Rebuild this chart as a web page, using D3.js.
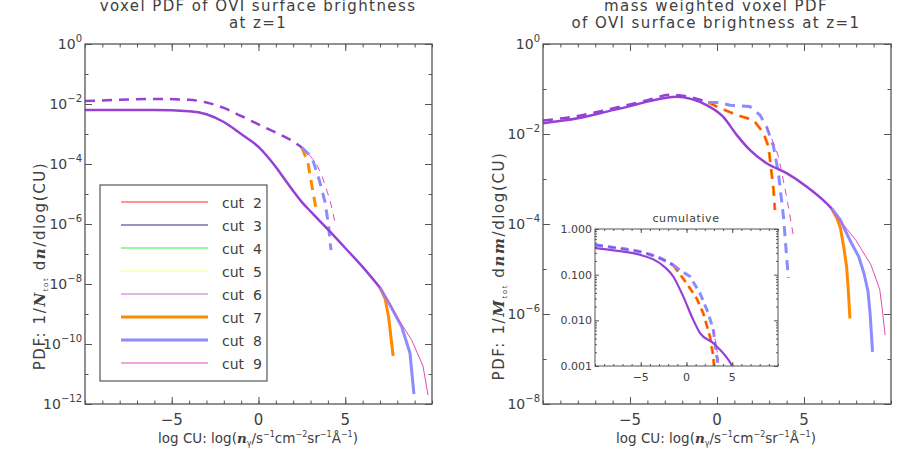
<!DOCTYPE html>
<html lang="en">
<head>
<meta charset="utf-8">
<title>OVI surface brightness voxel PDF</title>
<script src="https://cdn.jsdelivr.net/npm/d3@7"></script>
<style>
  body { margin: 0; background: #fff; }
  svg { font-family: "DejaVu Sans", sans-serif; }
  text { fill: #404040; }
</style>
</head>
<body>
<script>
// ---------- data (x = log CU, values = log10 of PDF) ----------
var cutNames  = ["cut 2", "cut 3", "cut 4", "cut 5", "cut 6", "cut 7", "cut 8", "cut 9"];
var cutColors = ["#ff2a2a", "#2e2a7c", "#3cec3c", "#ffff7a", "#c468d4", "#ff8a00", "#8c8cff", "#e04cb8"];
var cutWidths = [1, 1, 1, 1, 1, 3, 3, 1];

var xMajor = [-5, 0, 5];
var leftYExp = [0, -2, -4, -6, -8, -10, -12];
var rightYExp = [0, -2, -4, -6, -8];
var insetYVals = [1, 0.1, 0.01, 0.001];
var insetYLabels = ["1.000", "0.100", "0.010", "0.001"];

// left panel: voxel PDF
var leftSolid = [[-10,-2.2],[-6,-2.2],[-4,-2.24],[-3,-2.34],[-2,-2.6],[-1,-3.0],[0,-3.43],[0.5,-3.74],
  [1,-4.1],[1.5,-4.5],[2,-4.9],[2.5,-5.27],[3,-5.58],[4,-6.18],[5,-6.8],[6,-7.43],[7,-8.12]];
var leftSolid7 = [[7,-8.12],[7.3,-8.5],[7.5,-9.1],[7.62,-9.7],[7.76,-10.4]];
var leftSolid8 = [[7,-8.12],[7.58,-8.7],[8.25,-9.42],[8.73,-10.3],[8.96,-11.67]];
var leftSolid9 = [[7,-8.12],[7.58,-8.68],[8.16,-9.26],[8.83,-9.87],[9.48,-10.73],[9.77,-11.7]];
var leftDash = [[-10,-1.9],[-8,-1.86],[-6,-1.83],[-4,-1.86],[-3,-1.95],[-2,-2.13],[-1,-2.4],[0,-2.68],
  [1,-2.95],[2,-3.25],[2.5,-3.45]];
var leftDash7 = [[2.5,-3.45],[2.85,-3.97],[3.07,-4.7],[3.35,-5.6]];
var leftDash8 = [[2.5,-3.45],[2.9,-3.68],[3.16,-3.92],[3.5,-4.53],[3.83,-5.26],[4.02,-5.98],[4.18,-6.87]];
var leftDash9 = [[2.9,-3.68],[3.3,-3.95],[3.64,-4.37],[4.12,-5.2],[4.47,-6.09]];

// right panel: mass weighted voxel PDF
var rightSolid = [[-10,-1.76],[-8,-1.65],[-6,-1.47],[-5,-1.38],[-4,-1.28],[-3,-1.2],[-2.3,-1.17],[-1.5,-1.22],
  [-0.6,-1.36],[0.36,-1.62],[1.13,-2.02],[1.9,-2.36],[2.85,-2.65],[4,-2.87],[5.16,-3.17],[6.3,-3.54],[6.6,-3.66]];
var rightSolid7 = [[6.6,-3.66],[6.9,-3.88],[7.1,-4.1],[7.3,-4.55],[7.45,-4.95],[7.55,-5.5],[7.64,-6.1]];
var rightSolid8 = [[6.6,-3.66],[7.07,-3.9],[7.64,-4.36],[8.15,-4.73],[8.45,-5.1],[8.68,-5.5],[8.8,-6.0],[8.94,-6.84]];
var rightSolid9 = [[6.3,-3.54],[6.9,-3.84],[7.98,-4.36],[8.85,-4.91],[9.35,-5.45],[9.5,-5.9],[9.66,-6.47]];
var rightDash = [[-10,-1.7],[-8,-1.6],[-6,-1.43],[-4,-1.25],[-2.7,-1.13],[-1.5,-1.18],[-0.5,-1.3]];
var rightDash7 = [[-0.5,-1.3],[0,-1.39],[1.13,-1.58],[2.1,-1.69],[2.67,-1.98],[2.96,-2.28],[3.25,-3.24],[3.33,-3.69]];
var rightDash8 = [[-0.5,-1.3],[0.1,-1.3],[0.75,-1.36],[1.9,-1.39],[2.47,-1.58],[2.85,-1.84],[3.25,-2.28],
  [3.53,-2.87],[3.82,-3.84],[4.1,-5.2]];
var rightDash9 = [[2.85,-1.84],[3.25,-2.2],[3.53,-2.5],[4.0,-3.39],[4.38,-4.24]];

// inset: cumulative
var insetSolid = [[-10,-0.42],[-7.5,-0.48],[-5,-0.57],[-2.9,-0.75],[-1.45,-1.04],[-0.35,-1.48],[0.74,-1.99],
  [1.48,-2.28],[2.93,-2.5],[4.94,-2.98],[5.2,-3.08]];
var insetDash = [[-10,-0.35],[-7.5,-0.42],[-5,-0.5],[-2.9,-0.64],[-1.45,-0.79]];
var insetDash7 = [[-1.45,-0.79],[0.02,-1.19],[1.11,-1.52],[1.84,-1.85],[2.57,-2.36],[2.93,-2.8],[3.05,-3.1]];
var insetDash8 = [[-1.45,-0.79],[-0.71,-0.9],[0.38,-1.04],[1.48,-1.41],[2.39,-1.85],[2.93,-2.21],[3.48,-3.05]];
var insetDash9 = [[2.93,-2.21],[3.3,-2.6],[3.6,-3.1]];

var trunkColor = "#9640d4";
var axisColor = "#555";

var width = 915, height = 458;
var svg = d3.select("body").append("svg")
  .attr("width", width)
  .attr("height", height);

// ---------- helpers ----------
function drawFrame(g, x, y, opt) {
  var x0 = x.range()[0], x1 = x.range()[1];
  var y0 = y.range()[0], y1 = y.range()[1];
  var big = opt.major, small = opt.minor;
  var minorX = d3.range(Math.ceil(x.domain()[0]), x.domain()[1] + 1, 1);

  function tick(sel) {
    sel.selectAll("path").remove();
    sel.selectAll("line").attr("stroke", axisColor);
    sel.selectAll("text").remove();
  }
  g.append("g").attr("transform", "translate(0," + y0 + ")")
    .call(d3.axisBottom(x).tickValues(minorX).tickSize(-small)).call(tick);
  g.append("g").attr("transform", "translate(0," + y0 + ")")
    .call(d3.axisBottom(x).tickValues(xMajor).tickSize(-big)).call(tick);
  g.append("g").attr("transform", "translate(0," + y1 + ")")
    .call(d3.axisTop(x).tickValues(minorX).tickSize(-small)).call(tick);
  g.append("g").attr("transform", "translate(0," + y1 + ")")
    .call(d3.axisTop(x).tickValues(xMajor).tickSize(-big)).call(tick);

  g.append("g").attr("transform", "translate(" + x0 + ",0)")
    .call(d3.axisLeft(y).tickValues(opt.yMinor).tickSize(-small)).call(tick);
  g.append("g").attr("transform", "translate(" + x0 + ",0)")
    .call(d3.axisLeft(y).tickValues(opt.yMajor).tickSize(-big)).call(tick);
  g.append("g").attr("transform", "translate(" + x1 + ",0)")
    .call(d3.axisRight(y).tickValues(opt.yMinor).tickSize(-small)).call(tick);
  g.append("g").attr("transform", "translate(" + x1 + ",0)")
    .call(d3.axisRight(y).tickValues(opt.yMajor).tickSize(-big)).call(tick);

  g.append("rect")
    .attr("x", x0).attr("y", y1)
    .attr("width", x1 - x0).attr("height", y0 - y1)
    .attr("fill", "none")
    .attr("stroke", axisColor)
    .attr("stroke-width", opt.frameWidth);

  g.selectAll(".xlab").data(xMajor).enter().append("text")
    .attr("x", function(d) { return x(d); })
    .attr("y", y0 + opt.xLabDy)
    .attr("text-anchor", "middle")
    .style("font-size", opt.fontSize + "px")
    .text(function(d) { return d < 0 ? "\u2212" + (-d) : d; });
}

function powerLabels(g, y, exps, xr) {
  exps.forEach(function(e) {
    var t = g.append("text")
      .attr("x", xr)
      .attr("y", y(Math.pow(10, e)) + 5)
      .attr("text-anchor", "end")
      .style("font-size", "14px");
    t.append("tspan").text("10");
    t.append("tspan").attr("dy", -7).style("font-size", "10px")
      .text(e === 0 ? "0" : "\u2212" + (-e));
  });
}

function series(g, x, y, pts, color, w, dash, curve) {
  var line = d3.line()
    .x(function(d) { return x(d[0]); })
    .y(function(d) { return y(Math.pow(10, d[1])); })
    .curve(curve || d3.curveLinear);
  g.append("path")
    .datum(pts)
    .attr("d", line)
    .attr("fill", "none")
    .attr("stroke", color)
    .attr("stroke-width", w)
    .attr("stroke-linejoin", "round")
    .attr("stroke-dasharray", dash || null);
}

function clip(id, x, y) {
  svg.append("clipPath").attr("id", id).append("rect")
    .attr("x", x.range()[0]).attr("y", y.range()[1])
    .attr("width", x.range()[1] - x.range()[0])
    .attr("height", y.range()[0] - y.range()[1]);
}

var dashThick = "10,7", dashThin = "7,6";
var smooth = d3.curveMonotoneX;

// ---------- left panel ----------
var xL = d3.scaleLinear().domain([-10, 10]).range([85, 432]);
var yL = d3.scaleLog().domain([1e-12, 1]).range([404, 44]);
var gL = svg.append("g");
clip("clipL", xL, yL);
var cL = gL.append("g").attr("clip-path", "url(#clipL)");

series(cL, xL, yL, leftSolid7, cutColors[5], 3);
series(cL, xL, yL, leftSolid8, cutColors[6], 3);
series(cL, xL, yL, leftSolid9, cutColors[7], 1);
series(cL, xL, yL, leftDash7, cutColors[5], 3, dashThick);
series(cL, xL, yL, leftDash8, cutColors[6], 3, dashThick);
series(cL, xL, yL, leftDash9, cutColors[7], 1, dashThin);
series(cL, xL, yL, leftSolid, trunkColor, 2.5, null, smooth);
series(cL, xL, yL, leftDash, trunkColor, 2.5, dashThick, smooth);

drawFrame(gL, xL, yL, {
  major: 7, minor: 3.5, frameWidth: 1.3, xLabDy: 21, fontSize: 15,
  yMajor: leftYExp.map(function(e) { return Math.pow(10, e); }),
  yMinor: [-1, -3, -5, -7, -9, -11].map(function(e) { return Math.pow(10, e); })
});
powerLabels(gL, yL, leftYExp, 82);

// legend
var leg = gL.append("g");
leg.append("rect")
  .attr("x", 100).attr("y", 185).attr("width", 167).attr("height", 196)
  .attr("fill", "#fff").attr("stroke", axisColor).attr("stroke-width", 1.2);
cutNames.forEach(function(name, i) {
  var yy = 202 + 23 * i;
  leg.append("line")
    .attr("x1", 121).attr("x2", 208).attr("y1", yy).attr("y2", yy)
    .attr("stroke", cutColors[i]).attr("stroke-width", cutWidths[i]);
  leg.append("text")
    .attr("x", 222).attr("y", yy + 6)
    .style("font-size", "14px").style("white-space", "pre")
    .text(name.replace(" ", "  "));
});

// ---------- right panel ----------
var xR = d3.scaleLinear().domain([-10, 10]).range([543, 891]);
var yR = d3.scaleLog().domain([1e-8, 1]).range([404, 44]);
var gR = svg.append("g");
clip("clipR", xR, yR);
var cR = gR.append("g").attr("clip-path", "url(#clipR)");

series(cR, xR, yR, rightSolid7, cutColors[5], 3);
series(cR, xR, yR, rightSolid8, cutColors[6], 3);
series(cR, xR, yR, rightSolid9, cutColors[7], 1);
series(cR, xR, yR, rightDash7, cutColors[5], 3, dashThick);
series(cR, xR, yR, rightDash7, cutColors[0], 1, dashThick);
series(cR, xR, yR, rightDash8, cutColors[6], 3, dashThick);
series(cR, xR, yR, rightDash9, cutColors[7], 1, dashThin);
series(cR, xR, yR, rightSolid, trunkColor, 2.5, null, smooth);
series(cR, xR, yR, rightDash, trunkColor, 2.5, dashThick, smooth);

drawFrame(gR, xR, yR, {
  major: 7, minor: 3.5, frameWidth: 1.3, xLabDy: 21, fontSize: 15,
  yMajor: rightYExp.map(function(e) { return Math.pow(10, e); }),
  yMinor: [-1, -3, -5, -7].map(function(e) { return Math.pow(10, e); })
});
powerLabels(gR, yR, rightYExp, 540);

// ---------- inset ----------
var xI = d3.scaleLinear().domain([-10, 10]).range([595, 778]);
var yI = d3.scaleLog().domain([1e-3, 1]).range([366, 229]);
var gI = svg.append("g");
gI.append("rect")
  .attr("x", 595).attr("y", 229).attr("width", 183).attr("height", 137)
  .attr("fill", "#fff");
clip("clipI", xI, yI);
var cI = gI.append("g").attr("clip-path", "url(#clipI)");
series(cI, xI, yI, insetDash7, cutColors[5], 3, "8,5");
series(cI, xI, yI, insetDash7, cutColors[0], 1, "8,5");
series(cI, xI, yI, insetDash8, cutColors[6], 3, "8,5");
series(cI, xI, yI, insetDash9, cutColors[7], 1, "5,4");
series(cI, xI, yI, insetSolid, trunkColor, 2.2, null, smooth);
series(cI, xI, yI, insetDash, cutColors[6], 3.5, "8,5", smooth);
series(cI, xI, yI, insetDash, trunkColor, 1.2, "8,5", smooth);

var insetMinor = [];
[0.001, 0.01, 0.1].forEach(function(b) {
  for (var k = 2; k <= 9; k++) insetMinor.push(b * k);
});
drawFrame(gI, xI, yI, {
  major: 4, minor: 2, frameWidth: 1, xLabDy: 15, fontSize: 11,
  yMajor: insetYVals, yMinor: insetMinor
});
insetYVals.forEach(function(v, i) {
  gI.append("text")
    .attr("x", 592).attr("y", yI(v) + 4)
    .attr("text-anchor", "end")
    .style("font-size", "11px")
    .text(insetYLabels[i]);
});
gI.append("text")
  .attr("x", 686).attr("y", 222)
  .attr("text-anchor", "middle")
  .style("font-size", "11px").style("letter-spacing", "0.6px")
  .text("cumulative");

// ---------- titles ----------
function title(x, y, s) {
  svg.append("text").attr("x", x).attr("y", y)
    .attr("text-anchor", "middle")
    .style("font-size", "15px").style("letter-spacing", "1.4px")
    .text(s);
}
title(258, 11, "voxel PDF of OVI surface brightness");
title(258, 28, "at z=1");
title(716, 11, "mass weighted voxel PDF");
title(716, 28, "of OVI surface brightness at z=1");

// ---------- axis titles ----------
function xTitle(cx) {
  var t = svg.append("text").attr("x", cx).attr("y", 443)
    .attr("text-anchor", "middle")
    .style("font-size", "13.5px");
  t.append("tspan").text("log CU: log(");
  t.append("tspan").style("font-family", "'DejaVu Serif', serif")
    .style("font-style", "italic").style("font-weight", "bold").text("n");
  t.append("tspan").attr("dy", 3).style("font-size", "8px").text("\u03b3");
  t.append("tspan").attr("dy", -3).text("/s");
  [["\u22121", "cm"], ["\u22122", "sr"], ["\u22121", "\u00c5"], ["\u22121", ")"]].forEach(function(p) {
    t.append("tspan").attr("dy", -6).style("font-size", "8px").text(p[0]);
    t.append("tspan").attr("dy", 6).text(p[1]);
  });
}
xTitle(258);
xTitle(716);

function yTitle(bx, cy, sym, dsym) {
  var t = svg.append("text")
    .attr("transform", "translate(" + bx + "," + cy + ") rotate(-90)")
    .attr("text-anchor", "middle")
    .style("font-size", "15px").style("letter-spacing", "1.6px");
  t.append("tspan").text("PDF: 1/");
  t.append("tspan").style("font-family", "'DejaVu Serif', serif")
    .style("font-style", "italic").style("font-weight", "bold").text(sym);
  t.append("tspan").attr("dy", 3).style("font-size", "7px").text("tot");
  t.append("tspan").attr("dy", -3).text(" d");
  t.append("tspan").style("font-family", "'DejaVu Serif', serif")
    .style("font-style", "italic").style("font-weight", "bold").text(dsym);
  t.append("tspan").text("/dlog(CU)");
}
yTitle(45, 266, "N", "n");
yTitle(504, 266, "M", "nm");
</script>
</body>
</html>
